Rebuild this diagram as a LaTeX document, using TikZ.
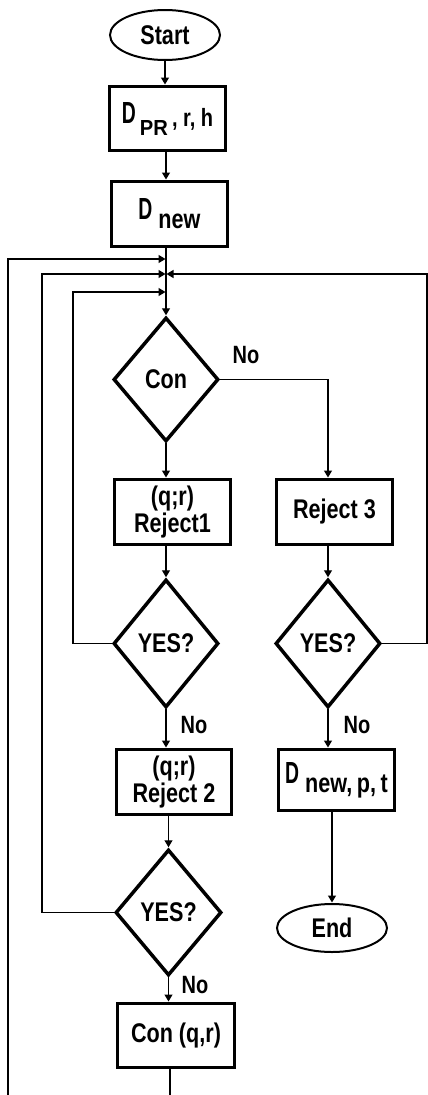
\documentclass[tikz,border=0pt]{standalone}
\usepackage{graphicx}
\usepackage{fontspec}
\setmainfont{Liberation Sans}[FakeStretch=0.8]
\usetikzlibrary{shapes.geometric,arrows.meta}
\newcommand{\capD}{\resizebox{14pt}{21pt}{D}}
\begin{document}
\begin{tikzpicture}[x=1pt,y=-1pt,
  every node/.style={font=\bfseries\fontsize{27}{25}\selectfont, inner sep=0pt, align=center},
  box/.style={draw, rectangle, line width=3pt},
  term/.style={draw, ellipse, line width=2pt},
  dia/.style={draw, diamond, line width=3.5pt},
  conn/.style={line width=1.2pt},
  arr/.style={conn, -{Triangle[length=7pt,width=8pt]}, shorten >=0.5pt},
  lbl/.style={font=\bfseries\fontsize{25}{25}\selectfont}]
\useasboundingbox (0,0) rectangle (428,1095);
\clip (0,0) rectangle (428,1095);

% nodes
\node[term, minimum width=110pt, minimum height=50pt] (start) at (165,35) {Start};
\node[box, minimum width=116pt, minimum height=64pt] (dpr) at (167.5,118.5)
  {\capD\hspace{4pt}\raisebox{-12pt}{\resizebox{28pt}{15pt}{PR}}\raisebox{-3pt}{\fontsize{25}{25}\selectfont\,, r, h}};
\node[box, minimum width=116pt, minimum height=65pt] (dnew) at (169.5,214)
  {\capD\hspace{6pt}\raisebox{-9pt}{new}};
\node[dia, minimum width=105pt, minimum height=124pt] (con) at (166,379.5) {Con};
\node[box, minimum width=116pt, minimum height=65pt] (rej1) at (172.5,512) {(q;r)\\Reject1};
\node[box, minimum width=116pt, minimum height=65pt] (rej3) at (334.5,512) {Reject 3};
\node[dia, minimum width=105pt, minimum height=128pt] (yes1) at (166,643.5) {YES?};
\node[dia, minimum width=105pt, minimum height=128pt] (yes2) at (328,643.5) {YES?};
\node[box, minimum width=115pt, minimum height=65pt] (rej2) at (174,782) {(q;r)\\Reject 2};
\node[box, minimum width=116pt, minimum height=61pt] (dnpt) at (336.5,780)
  {\capD\hspace{6pt}\raisebox{-9pt}{new,\,p,\,t}};
\node[dia, minimum width=106pt, minimum height=126pt] (yes3) at (168.5,912.5) {YES?};
\node[term, minimum width=110pt, minimum height=48pt] (end) at (332,928) {End};
\node[box, minimum width=117pt, minimum height=64pt] (conqr) at (176,1035.5) {Con (q,r)};

% labels
\node[lbl] (no1) at (246,355) {No};
\node[lbl] (no2) at (194,725) {No};
\node[lbl] (no3) at (357,725) {No};
\node[lbl] (no4) at (195,985) {No};

% junction coordinates
\coordinate (j0) at (166,259);
\coordinate (j1) at (166,274);
\coordinate (j2) at (166,292);
\coordinate (c0) at (8,259);
\coordinate (c1) at (42,274);
\coordinate (c2) at (73,292);
\coordinate (c3) at (427,274);
\coordinate (cb) at (170,1120);

% main flow
\draw[arr] (start.south) -- (start.south |- dpr.north);
\draw[arr] (dpr.south -| con.north) -- (dnew.north -| con.north);
\draw[arr] (dnew.south -| con.north) -- (con.north);
\draw[arr] (con.south) -- (con.south |- rej1.north);
\draw[arr] (con.east) -| (rej3.north -| yes2.north);
\draw[arr] (rej1.south -| yes1.north) -- (yes1.north);
\draw[arr] (rej3.south -| yes2.north) -- (yes2.north);
\draw[arr] (yes1.south) -- (yes1.south |- rej2.north);
\draw[arr] (yes2.south) -- (yes2.south |- dnpt.north);
\draw[arr] (rej2.south -| yes3.north) -- (yes3.north);
\draw[arr] (dnpt.south -| end.north) -- (end.north);
\draw[arr] (yes3.south) -- (yes3.south |- conqr.north);

% loops back
\draw[arr] (conqr.south -| cb) -- (cb) -| (c0) -- (j0);
\draw[arr] (yes3.west) -| (c1) -- (j1);
\draw[arr] (yes1.west) -| (c2) -- (j2);
\draw[arr] (yes2.east) -| (c3) -- (j1);
\end{tikzpicture}
\end{document}
